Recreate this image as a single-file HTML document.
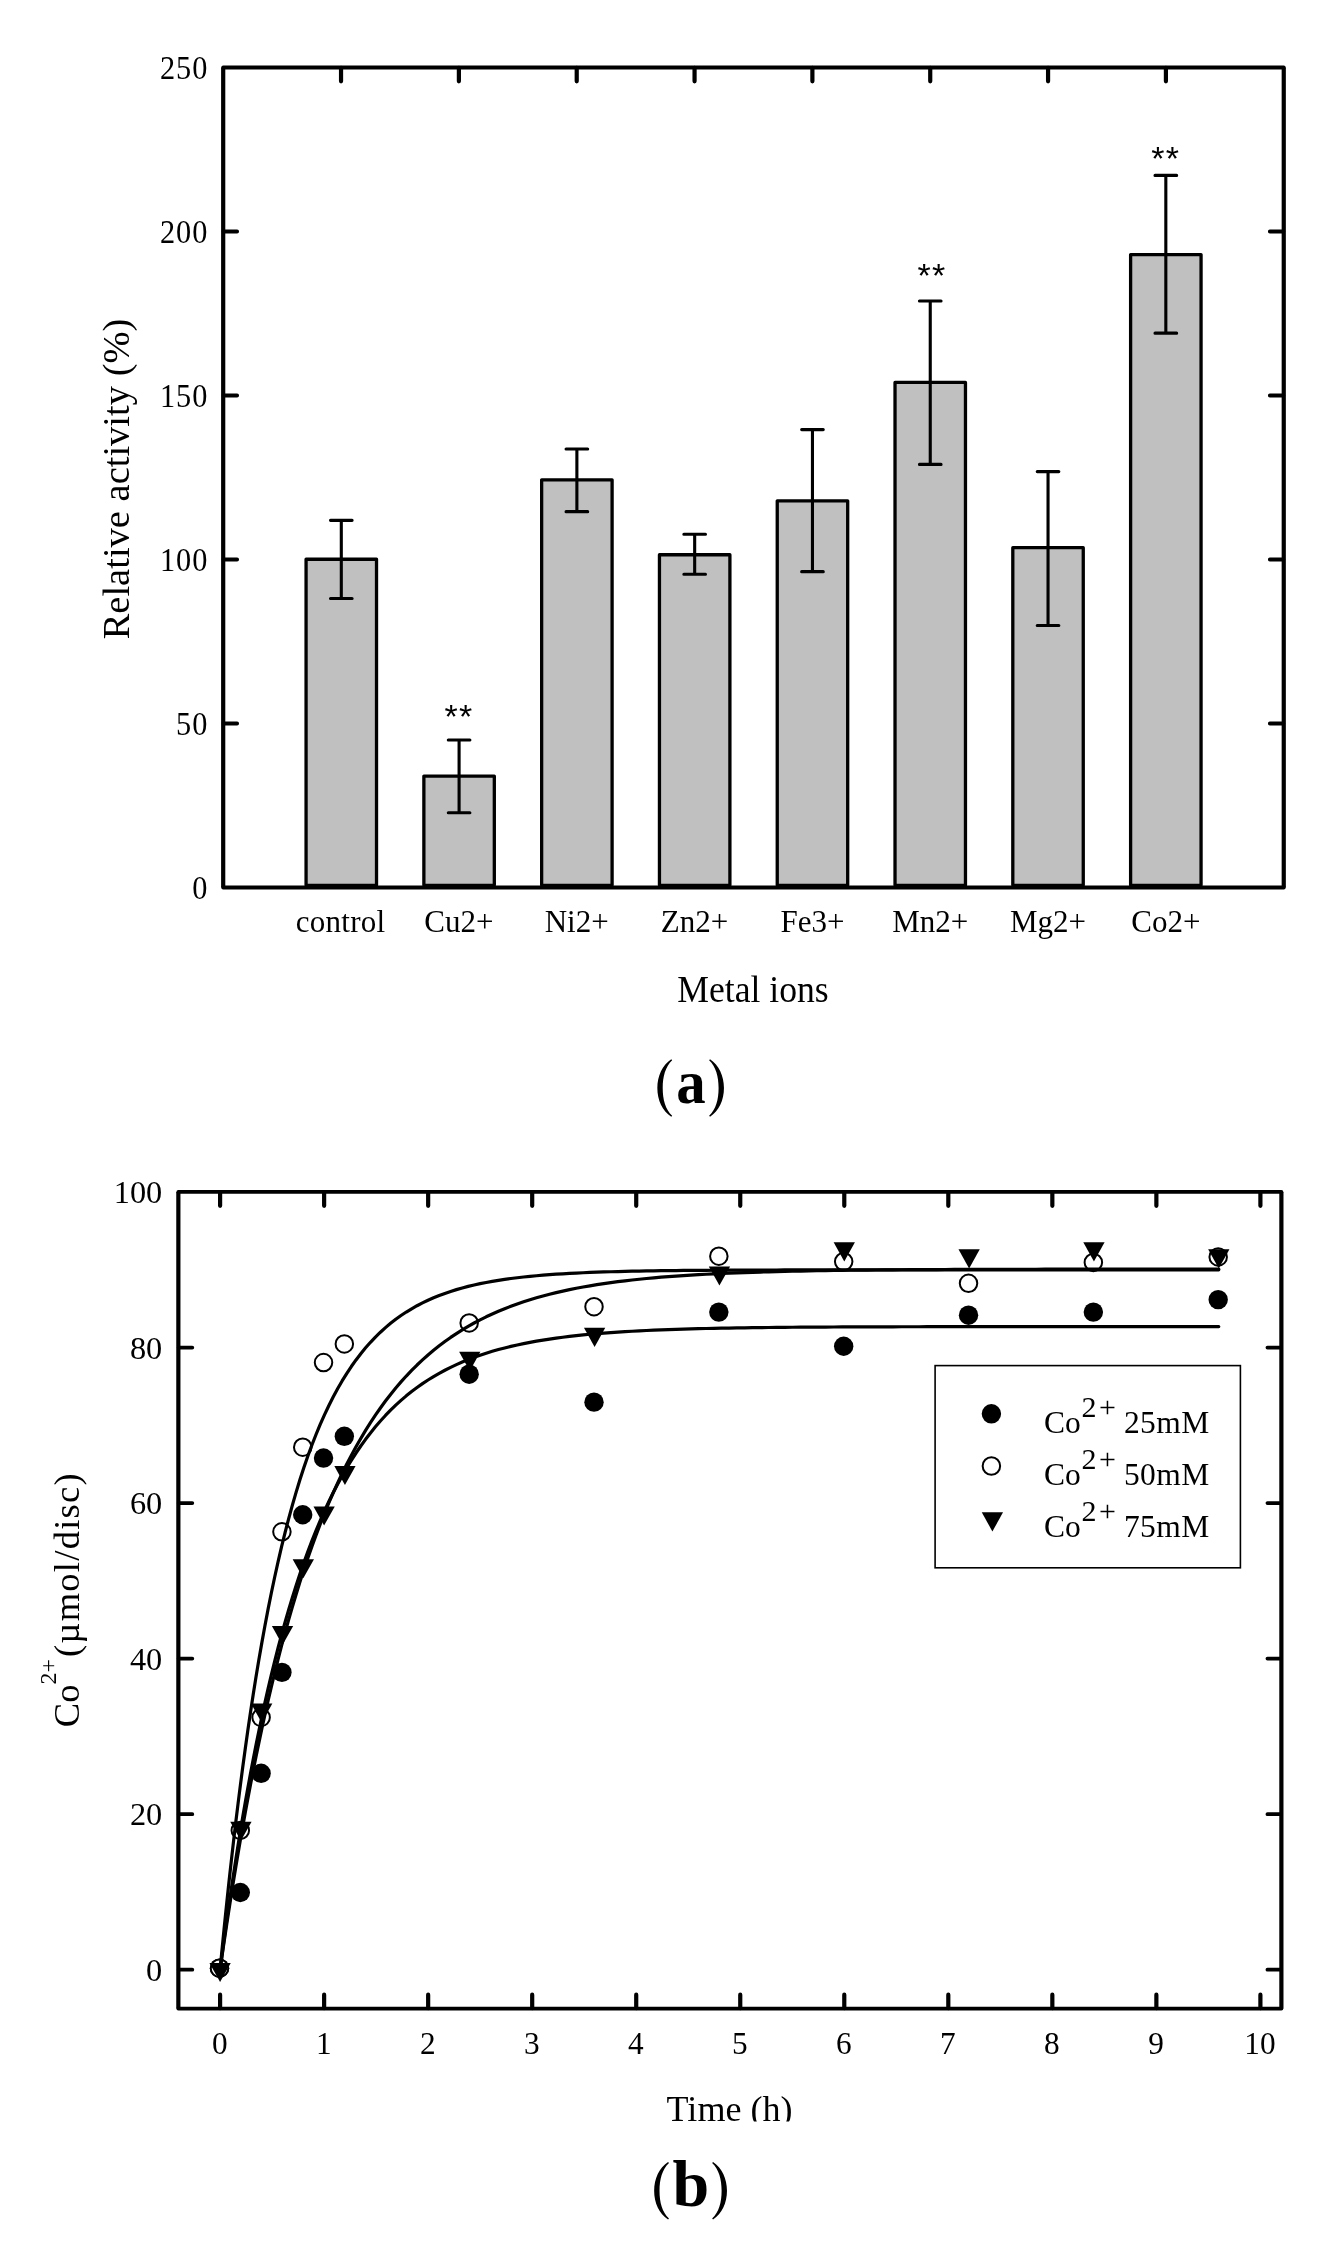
<!DOCTYPE html>
<html lang="en"><head><meta charset="utf-8"><title>Figure</title>
<style>
html,body{margin:0;padding:0;background:#fff;}
body{width:1343px;height:2256px;overflow:hidden;font-family:"Liberation Serif",serif;}
svg{display:block;will-change:transform;}
</style></head><body>
<svg width="1343" height="2256" viewBox="0 0 1343 2256">
<defs><clipPath id="clipTime"><rect x="600" y="2060" width="300" height="61.6"/></clipPath></defs>
<rect width="1343" height="2256" fill="#fff"/>
<!-- chart a -->
<g id="chartA" stroke="#000" fill="none" stroke-linecap="round" stroke-linejoin="round">
<rect x="306.07" y="559.26" width="70.45" height="326.04" fill="#c0c0c0" stroke-width="3.3"/>
<path d="M341.30 520.35V598.46M330.50 520.35h21.6M330.50 598.46h21.6" stroke-width="3.1"/>
<rect x="423.87" y="776.03" width="70.45" height="109.27" fill="#c0c0c0" stroke-width="3.3"/>
<path d="M459.09 739.94V812.77M448.29 739.94h21.6M448.29 812.77h21.6" stroke-width="3.1"/>
<rect x="541.65" y="479.81" width="70.45" height="405.49" fill="#c0c0c0" stroke-width="3.3"/>
<path d="M576.88 448.97V511.63M566.08 448.97h21.6M566.08 511.63h21.6" stroke-width="3.1"/>
<rect x="659.45" y="554.76" width="70.45" height="330.54" fill="#c0c0c0" stroke-width="3.3"/>
<path d="M694.67 534.26V574.28M683.87 534.26h21.6M683.87 574.28h21.6" stroke-width="3.1"/>
<rect x="777.24" y="500.80" width="70.45" height="384.50" fill="#c0c0c0" stroke-width="3.3"/>
<path d="M812.46 429.62V571.66M801.66 429.62h21.6M801.66 571.66h21.6" stroke-width="3.1"/>
<rect x="895.02" y="382.38" width="70.45" height="502.92" fill="#c0c0c0" stroke-width="3.3"/>
<path d="M930.25 301.02V464.39M919.45 301.02h21.6M919.45 464.39h21.6" stroke-width="3.1"/>
<rect x="1012.81" y="547.71" width="70.45" height="337.59" fill="#c0c0c0" stroke-width="3.3"/>
<path d="M1048.04 471.61V625.46M1037.24 471.61h21.6M1037.24 625.46h21.6" stroke-width="3.1"/>
<rect x="1130.61" y="254.54" width="70.45" height="630.76" fill="#c0c0c0" stroke-width="3.3"/>
<path d="M1165.83 175.39V333.17M1155.03 175.39h21.6M1155.03 333.17h21.6" stroke-width="3.1"/>
<path d="M223.2 67.46H1283.75M223.2 887.56H1283.75" stroke-width="3.9"/><path d="M223.2 67.46V887.56M1283.75 67.46V887.56" stroke-width="4.2" stroke-linecap="butt"/>
<path d="M223.6 723.54h13.5M1283.35 723.54h-13.5M223.6 559.52h13.5M1283.35 559.52h-13.5M223.6 395.50h13.5M1283.35 395.50h-13.5M223.6 231.48h13.5M1283.35 231.48h-13.5" stroke-width="3.9"/><path d="M341.04 67.86v13.5M458.88 67.86v13.5M576.72 67.86v13.5M694.56 67.86v13.5M812.39 67.86v13.5M930.23 67.86v13.5M1048.07 67.86v13.5M1165.91 67.86v13.5" stroke-width="4.2"/>
</g>
<g font-family="'Liberation Serif', serif" fill="#000">
<text transform="translate(208.20 898.86) scale(0.905 1)" font-size="33.5" text-anchor="end" letter-spacing="1.0">0</text>
<text transform="translate(208.20 734.84) scale(0.905 1)" font-size="33.5" text-anchor="end" letter-spacing="1.0">50</text>
<text transform="translate(208.20 570.82) scale(0.905 1)" font-size="33.5" text-anchor="end" letter-spacing="1.0">100</text>
<text transform="translate(208.20 406.80) scale(0.905 1)" font-size="33.5" text-anchor="end" letter-spacing="1.0">150</text>
<text transform="translate(208.20 242.78) scale(0.905 1)" font-size="33.5" text-anchor="end" letter-spacing="1.0">200</text>
<text transform="translate(208.20 78.76) scale(0.905 1)" font-size="33.5" text-anchor="end" letter-spacing="1.0">250</text>
<text transform="translate(340.54 932.30)" font-size="31" text-anchor="middle" letter-spacing="0.25">control</text>
<text transform="translate(458.88 932.30)" font-size="31" text-anchor="middle">Cu2+</text>
<text transform="translate(576.72 932.30)" font-size="31" text-anchor="middle">Ni2+</text>
<text transform="translate(694.56 932.30)" font-size="31" text-anchor="middle">Zn2+</text>
<text transform="translate(812.39 932.30)" font-size="31" text-anchor="middle">Fe3+</text>
<text transform="translate(930.23 932.30)" font-size="31" text-anchor="middle">Mn2+</text>
<text transform="translate(1048.07 932.30)" font-size="31" text-anchor="middle">Mg2+</text>
<text transform="translate(1165.91 932.30)" font-size="31" text-anchor="middle">Co2+</text>
<text x="753" y="1001.8" font-size="38.3" text-anchor="middle" textLength="151.5" lengthAdjust="spacingAndGlyphs">Metal ions</text>
<text transform="translate(128.8 479) rotate(-90)" font-size="38.5" text-anchor="middle">Relative activity (%)</text>
<path d="M671.27 1059.21C662.34 1065.32 657.35 1075.74 657.35 1088.03C657.35 1100.31 662.34 1110.74 671.27 1116.84L672.17 1115.80C665.32 1109.25 662.71 1099.57 662.71 1088.03C662.71 1076.49 665.32 1066.81 672.17 1060.25Z" fill="#000"/><path d="M710.03 1059.21C718.96 1065.32 723.95 1075.74 723.95 1088.03C723.95 1100.31 718.96 1110.74 710.03 1116.84L709.13 1115.80C715.98 1109.25 718.59 1099.57 718.59 1088.03C718.59 1076.49 715.98 1066.81 709.13 1060.25Z" fill="#000"/>
<text transform="translate(676.3 1103) scale(0.95 1)" font-size="62" font-weight="bold">a</text>
</g>
<g font-family="'Liberation Sans', sans-serif" fill="#000" font-size="34" letter-spacing="1.3" text-anchor="middle">
<text x="459.0" y="727.6">**</text>
<text x="932.0" y="287.1">**</text>
<text x="1165.8" y="169.9">**</text>
</g>
<!-- chart b -->
<g id="chartB" stroke="#000" fill="none" stroke-linecap="round" stroke-linejoin="round">
<circle cx="219.50" cy="1968.22" r="9.7" fill="#000" stroke="none"/>
<circle cx="240.31" cy="1892.51" r="9.7" fill="#000" stroke="none"/>
<circle cx="261.11" cy="1773.32" r="9.7" fill="#000" stroke="none"/>
<circle cx="281.92" cy="1672.38" r="9.7" fill="#000" stroke="none"/>
<circle cx="302.72" cy="1514.75" r="9.7" fill="#000" stroke="none"/>
<circle cx="323.53" cy="1458.06" r="9.7" fill="#000" stroke="none"/>
<circle cx="344.34" cy="1436.32" r="9.7" fill="#000" stroke="none"/>
<circle cx="469.17" cy="1374.20" r="9.7" fill="#000" stroke="none"/>
<circle cx="594.01" cy="1402.15" r="9.7" fill="#000" stroke="none"/>
<circle cx="718.84" cy="1312.08" r="9.7" fill="#000" stroke="none"/>
<circle cx="843.68" cy="1346.25" r="9.7" fill="#000" stroke="none"/>
<circle cx="968.52" cy="1315.19" r="9.7" fill="#000" stroke="none"/>
<circle cx="1093.35" cy="1312.08" r="9.7" fill="#000" stroke="none"/>
<circle cx="1218.19" cy="1299.66" r="9.7" fill="#000" stroke="none"/>
<circle cx="219.50" cy="1968.22" r="8.75" fill="#fff" stroke-width="2.0"/>
<circle cx="240.31" cy="1830.39" r="8.75" fill="#fff" stroke-width="2.0"/>
<circle cx="261.11" cy="1717.41" r="8.75" fill="#fff" stroke-width="2.0"/>
<circle cx="281.92" cy="1531.83" r="8.75" fill="#fff" stroke-width="2.0"/>
<circle cx="302.72" cy="1447.19" r="8.75" fill="#fff" stroke-width="2.0"/>
<circle cx="323.53" cy="1362.55" r="8.75" fill="#fff" stroke-width="2.0"/>
<circle cx="344.34" cy="1343.92" r="8.75" fill="#fff" stroke-width="2.0"/>
<circle cx="469.17" cy="1322.95" r="8.75" fill="#fff" stroke-width="2.0"/>
<circle cx="594.01" cy="1306.65" r="8.75" fill="#fff" stroke-width="2.0"/>
<circle cx="718.84" cy="1256.17" r="8.75" fill="#fff" stroke-width="2.0"/>
<circle cx="843.68" cy="1261.61" r="8.75" fill="#fff" stroke-width="2.0"/>
<circle cx="968.52" cy="1283.35" r="8.75" fill="#fff" stroke-width="2.0"/>
<circle cx="1093.35" cy="1262.38" r="8.75" fill="#fff" stroke-width="2.0"/>
<circle cx="1218.19" cy="1256.95" r="8.75" fill="#fff" stroke-width="2.0"/>
<path d="M209.45 1962.96h21.3L220.10 1982.06Z" fill="#000" stroke="none"/>
<path d="M230.26 1821.64h21.3L240.91 1840.74Z" fill="#000" stroke="none"/>
<path d="M251.06 1703.61h21.3L261.71 1722.71Z" fill="#000" stroke="none"/>
<path d="M271.87 1625.96h21.3L282.52 1645.06Z" fill="#000" stroke="none"/>
<path d="M292.67 1559.18h21.3L303.32 1578.28Z" fill="#000" stroke="none"/>
<path d="M313.48 1506.38h21.3L324.13 1525.48Z" fill="#000" stroke="none"/>
<path d="M334.29 1466.00h21.3L344.94 1485.10Z" fill="#000" stroke="none"/>
<path d="M459.12 1351.85h21.3L469.77 1370.95Z" fill="#000" stroke="none"/>
<path d="M583.96 1327.78h21.3L594.61 1346.88Z" fill="#000" stroke="none"/>
<path d="M708.79 1266.44h21.3L719.44 1285.54Z" fill="#000" stroke="none"/>
<path d="M833.63 1242.37h21.3L844.28 1261.47Z" fill="#000" stroke="none"/>
<path d="M958.47 1249.36h21.3L969.12 1268.46Z" fill="#000" stroke="none"/>
<path d="M1083.30 1242.37h21.3L1093.95 1261.47Z" fill="#000" stroke="none"/>
<path d="M1208.14 1249.36h21.3L1218.79 1268.46Z" fill="#000" stroke="none"/>
<path d="M220.10 1969.66L220.40 1967.38L221.00 1962.77L221.82 1956.54L222.83 1948.99L224.00 1940.33L225.32 1930.70L226.78 1920.23L228.38 1909.02L230.09 1897.18L231.93 1884.79L233.87 1871.93L235.93 1858.66L238.09 1845.07L240.36 1831.20L242.72 1817.12L245.19 1802.88L247.74 1788.54L250.39 1774.13L253.13 1759.71L255.95 1745.31L258.86 1730.98L261.86 1716.74L264.93 1702.63L268.09 1688.68L271.33 1674.91L274.65 1661.35L278.05 1648.02L281.52 1634.94L285.06 1622.12L288.69 1609.59L292.38 1597.35L296.15 1585.41L299.98 1573.79L303.89 1562.50L307.87 1551.53L311.92 1540.90L316.03 1530.60L320.21 1520.64L324.46 1511.02L328.78 1501.74L333.16 1492.79L337.60 1484.18L342.11 1475.91L346.68 1467.96L351.31 1460.33L356.01 1453.02L360.77 1446.02L365.59 1439.33L370.47 1432.93L375.41 1426.83L380.41 1421.01L385.46 1415.46L390.58 1410.18L395.76 1405.16L400.99 1400.39L406.28 1395.86L411.63 1391.57L417.03 1387.50L422.50 1383.64L428.01 1380.00L433.58 1376.55L439.21 1373.30L444.89 1370.23L450.63 1367.33L456.42 1364.60L462.26 1362.03L468.16 1359.62L474.11 1357.35L480.11 1355.22L486.17 1353.21L492.28 1351.34L498.44 1349.58L504.65 1347.93L510.91 1346.39L517.22 1344.95L523.59 1343.60L530.00 1342.34L536.47 1341.17L542.98 1340.08L549.54 1339.06L556.16 1338.11L562.82 1337.23L569.53 1336.40L576.29 1335.64L583.10 1334.93L589.96 1334.27L596.86 1333.66L603.82 1333.10L610.82 1332.58L617.86 1332.09L624.96 1331.64L632.10 1331.23L639.29 1330.85L646.52 1330.49L653.81 1330.17L661.13 1329.87L668.51 1329.59L675.93 1329.33L683.39 1329.10L690.90 1328.88L698.46 1328.68L706.06 1328.50L713.70 1328.33L721.39 1328.18L729.13 1328.04L736.91 1327.91L744.73 1327.79L752.60 1327.68L760.51 1327.58L768.46 1327.49L776.46 1327.41L784.50 1327.33L792.58 1327.27L800.71 1327.20L808.88 1327.14L817.09 1327.09L825.35 1327.04L833.65 1327.00L841.99 1326.96L850.37 1326.93L858.80 1326.89L867.26 1326.86L875.77 1326.84L884.32 1326.81L892.91 1326.79L901.54 1326.77L910.22 1326.75L918.93 1326.73L927.69 1326.72L936.49 1326.71L945.32 1326.69L954.20 1326.68L963.12 1326.67L972.08 1326.66L981.08 1326.66L990.12 1326.65L999.20 1326.64L1008.31 1326.64L1017.47 1326.63L1026.67 1326.63L1035.91 1326.62L1045.19 1326.62L1054.50 1326.61L1063.86 1326.61L1073.25 1326.61L1082.69 1326.61L1092.16 1326.60L1101.67 1326.60L1111.22 1326.60L1120.81 1326.60L1130.43 1326.60L1140.10 1326.60L1149.80 1326.59L1159.54 1326.59L1169.32 1326.59L1179.14 1326.59L1189.00 1326.59L1198.89 1326.59L1208.82 1326.59L1218.79 1326.59" stroke-width="3.2"/>
<path d="M220.10 1969.66L220.40 1966.53L221.00 1960.22L221.82 1951.71L222.83 1941.43L224.00 1929.67L225.32 1916.65L226.78 1902.56L228.38 1887.54L230.09 1871.76L231.93 1855.33L233.87 1838.38L235.93 1821.01L238.09 1803.32L240.36 1785.40L242.72 1767.33L245.19 1749.20L247.74 1731.08L250.39 1713.03L253.13 1695.11L255.95 1677.37L258.86 1659.86L261.86 1642.64L264.93 1625.73L268.09 1609.16L271.33 1592.98L274.65 1577.21L278.05 1561.86L281.52 1546.97L285.06 1532.53L288.69 1518.57L292.38 1505.09L296.15 1492.09L299.98 1479.59L303.89 1467.59L307.87 1456.07L311.92 1445.04L316.03 1434.50L320.21 1424.43L324.46 1414.84L328.78 1405.70L333.16 1397.02L337.60 1388.77L342.11 1380.95L346.68 1373.55L351.31 1366.54L356.01 1359.93L360.77 1353.69L365.59 1347.81L370.47 1342.28L375.41 1337.07L380.41 1332.19L385.46 1327.61L390.58 1323.32L395.76 1319.30L400.99 1315.54L406.28 1312.04L411.63 1308.77L417.03 1305.72L422.50 1302.88L428.01 1300.24L433.58 1297.79L439.21 1295.51L444.89 1293.40L450.63 1291.45L456.42 1289.64L462.26 1287.97L468.16 1286.42L474.11 1285.00L480.11 1283.68L486.17 1282.47L492.28 1281.36L498.44 1280.34L504.65 1279.40L510.91 1278.53L517.22 1277.74L523.59 1277.02L530.00 1276.35L536.47 1275.75L542.98 1275.19L549.54 1274.69L556.16 1274.22L562.82 1273.80L569.53 1273.42L576.29 1273.07L583.10 1272.75L589.96 1272.46L596.86 1272.20L603.82 1271.97L610.82 1271.75L617.86 1271.56L624.96 1271.38L632.10 1271.22L639.29 1271.08L646.52 1270.95L653.81 1270.83L661.13 1270.72L668.51 1270.63L675.93 1270.54L683.39 1270.47L690.90 1270.40L698.46 1270.33L706.06 1270.28L713.70 1270.23L721.39 1270.18L729.13 1270.14L736.91 1270.11L744.73 1270.08L752.60 1270.05L760.51 1270.02L768.46 1270.00L776.46 1269.98L784.50 1269.96L792.58 1269.94L800.71 1269.93L808.88 1269.92L817.09 1269.91L825.35 1269.90L833.65 1269.89L841.99 1269.88L850.37 1269.87L858.80 1269.87L867.26 1269.86L875.77 1269.86L884.32 1269.85L892.91 1269.85L901.54 1269.84L910.22 1269.84L918.93 1269.84L927.69 1269.84L936.49 1269.83L945.32 1269.83L954.20 1269.83L963.12 1269.83L972.08 1269.83L981.08 1269.83L990.12 1269.83L999.20 1269.83L1008.31 1269.82L1017.47 1269.82L1026.67 1269.82L1035.91 1269.82L1045.19 1269.82L1054.50 1269.82L1063.86 1269.82L1073.25 1269.82L1082.69 1269.82L1092.16 1269.82L1101.67 1269.82L1111.22 1269.82L1120.81 1269.82L1130.43 1269.82L1140.10 1269.82L1149.80 1269.82L1159.54 1269.82L1169.32 1269.82L1179.14 1269.82L1189.00 1269.82L1198.89 1269.82L1208.82 1269.82L1218.79 1269.82" stroke-width="3.2"/>
<path d="M220.10 1969.66L220.40 1967.56L221.00 1963.32L221.82 1957.58L222.83 1950.62L224.00 1942.61L225.32 1933.69L226.78 1923.96L228.38 1913.52L230.09 1902.45L231.93 1890.83L233.87 1878.72L235.93 1866.19L238.09 1853.30L240.36 1840.09L242.72 1826.62L245.19 1812.94L247.74 1799.09L250.39 1785.12L253.13 1771.06L255.95 1756.95L258.86 1742.82L261.86 1728.71L264.93 1714.65L268.09 1700.67L271.33 1686.78L274.65 1673.03L278.05 1659.42L281.52 1645.97L285.06 1632.72L288.69 1619.67L292.38 1606.83L296.15 1594.23L299.98 1581.88L303.89 1569.78L307.87 1557.94L311.92 1546.38L316.03 1535.10L320.21 1524.10L324.46 1513.40L328.78 1502.98L333.16 1492.87L337.60 1483.05L342.11 1473.53L346.68 1464.31L351.31 1455.39L356.01 1446.76L360.77 1438.43L365.59 1430.38L370.47 1422.63L375.41 1415.16L380.41 1407.97L385.46 1401.05L390.58 1394.41L395.76 1388.03L400.99 1381.91L406.28 1376.04L411.63 1370.41L417.03 1365.03L422.50 1359.89L428.01 1354.97L433.58 1350.27L439.21 1345.78L444.89 1341.51L450.63 1337.43L456.42 1333.55L462.26 1329.85L468.16 1326.34L474.11 1323.00L480.11 1319.83L486.17 1316.82L492.28 1313.96L498.44 1311.25L504.65 1308.69L510.91 1306.26L517.22 1303.96L523.59 1301.79L530.00 1299.74L536.47 1297.80L542.98 1295.97L549.54 1294.24L556.16 1292.61L562.82 1291.08L569.53 1289.64L576.29 1288.28L583.10 1287.00L589.96 1285.80L596.86 1284.67L603.82 1283.61L610.82 1282.62L617.86 1281.69L624.96 1280.81L632.10 1279.99L639.29 1279.23L646.52 1278.51L653.81 1277.84L661.13 1277.21L668.51 1276.63L675.93 1276.08L683.39 1275.57L690.90 1275.09L698.46 1274.65L706.06 1274.23L713.70 1273.85L721.39 1273.49L729.13 1273.16L736.91 1272.85L744.73 1272.56L752.60 1272.29L760.51 1272.04L768.46 1271.81L776.46 1271.59L784.50 1271.39L792.58 1271.21L800.71 1271.04L808.88 1270.88L817.09 1270.74L825.35 1270.60L833.65 1270.47L841.99 1270.36L850.37 1270.25L858.80 1270.15L867.26 1270.06L875.77 1269.98L884.32 1269.90L892.91 1269.83L901.54 1269.76L910.22 1269.70L918.93 1269.65L927.69 1269.60L936.49 1269.55L945.32 1269.51L954.20 1269.47L963.12 1269.43L972.08 1269.40L981.08 1269.37L990.12 1269.34L999.20 1269.31L1008.31 1269.29L1017.47 1269.27L1026.67 1269.25L1035.91 1269.23L1045.19 1269.21L1054.50 1269.20L1063.86 1269.18L1073.25 1269.17L1082.69 1269.16L1092.16 1269.15L1101.67 1269.14L1111.22 1269.13L1120.81 1269.12L1130.43 1269.11L1140.10 1269.11L1149.80 1269.10L1159.54 1269.10L1169.32 1269.09L1179.14 1269.09L1189.00 1269.08L1198.89 1269.08L1208.82 1269.07L1218.79 1269.07" stroke-width="3.2"/>
<path d="M178.36 1191.9H1281.39M178.36 2008.6H1281.39" stroke-width="3.9"/><path d="M178.36 1191.9V2008.6M1281.39 1191.9V2008.6" stroke-width="4.2" stroke-linecap="butt"/>
<path d="M178.76000000000002 1969.66h13.5M1280.99 1969.66h-13.5M178.76000000000002 1814.14h13.5M1280.99 1814.14h-13.5M178.76000000000002 1658.62h13.5M1280.99 1658.62h-13.5M178.76000000000002 1503.10h13.5M1280.99 1503.10h-13.5M178.76000000000002 1347.58h13.5M1280.99 1347.58h-13.5" stroke-width="3.9"/><path d="M220.10 1192.3000000000002v13.5M220.10 2008.1999999999998v-13.5M324.13 1192.3000000000002v13.5M324.13 2008.1999999999998v-13.5M428.16 1192.3000000000002v13.5M428.16 2008.1999999999998v-13.5M532.19 1192.3000000000002v13.5M532.19 2008.1999999999998v-13.5M636.22 1192.3000000000002v13.5M636.22 2008.1999999999998v-13.5M740.25 1192.3000000000002v13.5M740.25 2008.1999999999998v-13.5M844.28 1192.3000000000002v13.5M844.28 2008.1999999999998v-13.5M948.31 1192.3000000000002v13.5M948.31 2008.1999999999998v-13.5M1052.34 1192.3000000000002v13.5M1052.34 2008.1999999999998v-13.5M1156.37 1192.3000000000002v13.5M1156.37 2008.1999999999998v-13.5M1260.40 1192.3000000000002v13.5M1260.40 2008.1999999999998v-13.5" stroke-width="4.2"/>
<rect x="935.1" y="1365.6" width="305.3" height="202.2" stroke-width="1.6" fill="#fff" stroke-linejoin="miter"/>
<circle cx="991.4" cy="1413.8" r="9.7" fill="#000" stroke="none"/>
<circle cx="991.4" cy="1466" r="8.75" fill="#fff" stroke-width="2.0"/>
<path d="M981.75 1512.33h21.3L992.40 1531.43Z" fill="#000" stroke="none"/>
</g>
<g font-family="'Liberation Serif', serif" fill="#000">
<text transform="translate(162.30 1980.86) scale(0.993 1)" font-size="32.6" text-anchor="end">0</text>
<text transform="translate(162.30 1825.34) scale(0.993 1)" font-size="32.6" text-anchor="end">20</text>
<text transform="translate(162.30 1669.82) scale(0.993 1)" font-size="32.6" text-anchor="end">40</text>
<text transform="translate(162.30 1514.30) scale(0.993 1)" font-size="32.6" text-anchor="end">60</text>
<text transform="translate(162.30 1358.78) scale(0.993 1)" font-size="32.6" text-anchor="end">80</text>
<text transform="translate(162.30 1203.26) scale(0.993 1)" font-size="32.6" text-anchor="end">100</text>
<text transform="translate(219.70 2054.10) scale(0.96 1)" font-size="32.6" text-anchor="middle">0</text>
<text transform="translate(323.73 2054.10) scale(0.96 1)" font-size="32.6" text-anchor="middle">1</text>
<text transform="translate(427.76 2054.10) scale(0.96 1)" font-size="32.6" text-anchor="middle">2</text>
<text transform="translate(531.79 2054.10) scale(0.96 1)" font-size="32.6" text-anchor="middle">3</text>
<text transform="translate(635.82 2054.10) scale(0.96 1)" font-size="32.6" text-anchor="middle">4</text>
<text transform="translate(739.85 2054.10) scale(0.96 1)" font-size="32.6" text-anchor="middle">5</text>
<text transform="translate(843.88 2054.10) scale(0.96 1)" font-size="32.6" text-anchor="middle">6</text>
<text transform="translate(947.91 2054.10) scale(0.96 1)" font-size="32.6" text-anchor="middle">7</text>
<text transform="translate(1051.94 2054.10) scale(0.96 1)" font-size="32.6" text-anchor="middle">8</text>
<text transform="translate(1155.97 2054.10) scale(0.96 1)" font-size="32.6" text-anchor="middle">9</text>
<text transform="translate(1260.00 2054.10) scale(0.96 1)" font-size="32.6" text-anchor="middle">10</text>
<text x="1044" y="1432.6" font-size="31.5">Co<tspan x="1081.4" dy="-15.8" font-size="30">2</tspan><tspan dx="2.6" font-size="30">+</tspan><tspan x="1123.9" dy="15.8" textLength="85.3" lengthAdjust="spacing">25mM</tspan></text>
<text x="1044" y="1484.7" font-size="31.5">Co<tspan x="1081.4" dy="-15.8" font-size="30">2</tspan><tspan dx="2.6" font-size="30">+</tspan><tspan x="1123.9" dy="15.8" textLength="85.3" lengthAdjust="spacing">50mM</tspan></text>
<text x="1044" y="1536.8" font-size="31.5">Co<tspan x="1081.4" dy="-15.8" font-size="30">2</tspan><tspan dx="2.6" font-size="30">+</tspan><tspan x="1123.9" dy="15.8" textLength="85.3" lengthAdjust="spacing">75mM</tspan></text>
<text transform="translate(79 1727.2) rotate(-90)" font-size="36.5">Co<tspan dy="-22.6" font-size="24">2+</tspan><tspan dy="22.6" dx="2.0" textLength="183.7" lengthAdjust="spacing">(µmol/disc)</tspan></text>
<g clip-path="url(#clipTime)"><text x="729.6" y="2121.3" font-size="36.5" text-anchor="middle" textLength="126" lengthAdjust="spacingAndGlyphs">Time (h)</text></g>
<path d="M668.07 2161.96C659.14 2168.07 654.15 2178.49 654.15 2190.78C654.15 2203.06 659.14 2213.49 668.07 2219.59L668.97 2218.55C662.12 2212.00 659.51 2202.32 659.51 2190.78C659.51 2179.24 662.12 2169.56 668.97 2163.00Z" fill="#000"/><path d="M713.05 2161.96C721.98 2168.07 726.97 2178.49 726.97 2190.78C726.97 2203.06 721.98 2213.49 713.05 2219.59L712.15 2218.55C719.00 2212.00 721.61 2202.32 721.61 2190.78C721.61 2179.24 719.00 2169.56 712.15 2163.00Z" fill="#000"/>
<text x="672.5" y="2205.7" font-size="66" font-weight="bold">b</text>
</g>
</svg>
</body></html>
